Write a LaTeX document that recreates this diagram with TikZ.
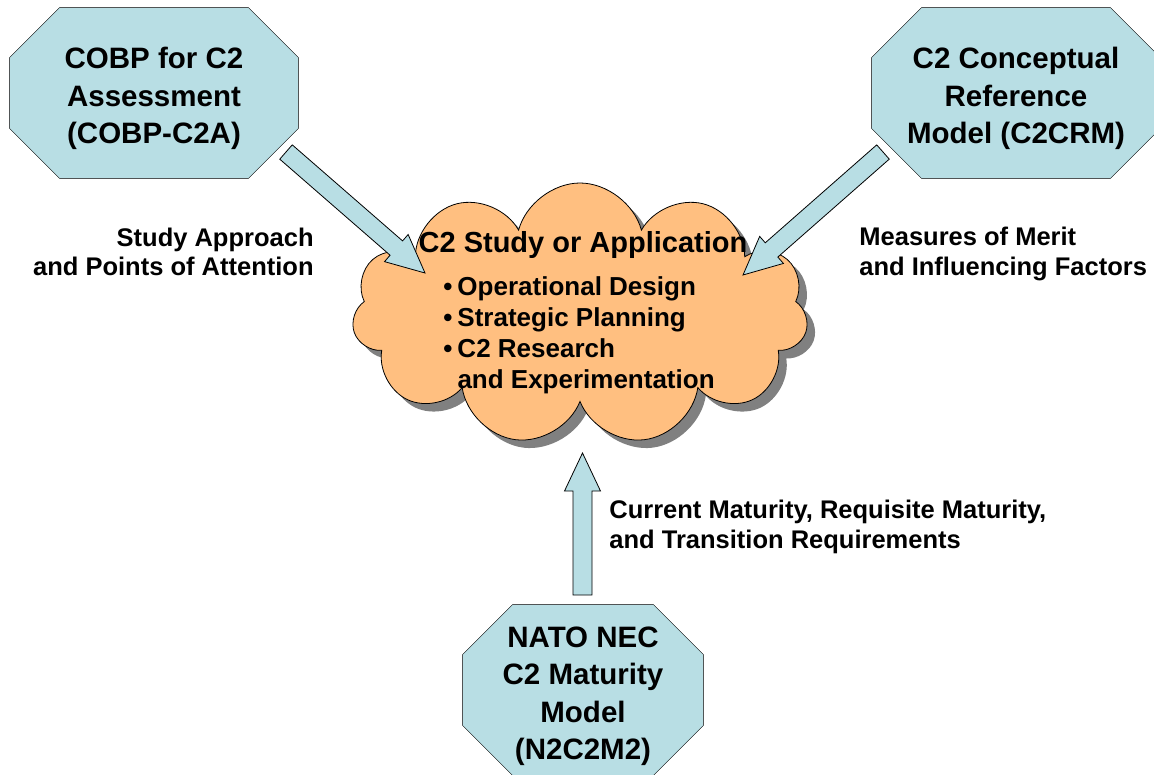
\documentclass[tikz,border=0pt]{standalone}
\usepackage{fontspec}
\setmainfont{Liberation Sans}
\usetikzlibrary{calc,shapes.symbols,shadows,backgrounds}
\definecolor{boxblue}{RGB}{184,222,228}
\definecolor{cloudorange}{RGB}{255,191,128}
\definecolor{shadowgray}{RGB}{128,128,128}
\newcommand\octlines[1]{\begin{tabular}{@{}c@{}}\rule{0pt}{38pt}#1\end{tabular}}
\begin{document}
\begin{tikzpicture}[x=1pt,y=-1pt,line width=0.8pt,
  octo/.style={rectangle,inner sep=0pt,minimum width=288pt,minimum height=170pt,
    font=\bfseries\fontsize{29.5}{37.5}\selectfont},
  lbl/.style={font=\bfseries\fontsize{25.5}{29.5}\selectfont,inner sep=0pt},
  fat/.style={draw,fill=boxblue,line join=miter,
    to path={($(\tikztostart)!9.5pt!90:(\tikztotarget)$)
      -- ($($(\tikztotarget)!38pt!(\tikztostart)$)!9.5pt!90:(\tikztotarget)$)
      -- ($($(\tikztotarget)!38pt!(\tikztostart)$)!18pt!90:(\tikztotarget)$)
      -- (\tikztotarget)
      -- ($($(\tikztotarget)!38pt!(\tikztostart)$)!18pt!-90:(\tikztotarget)$)
      -- ($($(\tikztotarget)!38pt!(\tikztostart)$)!9.5pt!-90:(\tikztotarget)$)
      -- ($(\tikztostart)!9.5pt!-90:(\tikztotarget)$) -- cycle}}]
  \useasboundingbox (0,0) rectangle (1154,774);
  % the study in the middle
  \node[cloud,cloud puffs=11,cloud ignores aspect,minimum width=456pt,minimum height=262pt,
    draw,fill=cloudorange,
    drop shadow={shadow xshift=8pt,shadow yshift=-8pt,opacity=1,fill=shadowgray}] (study) at (580,314) {};
  \node[font=\bfseries\fontsize{29}{35}\selectfont] (title) at (583,245) {C2 Study or Application};
  \node[font=\bfseries\fontsize{26}{31}\selectfont,inner sep=0pt,anchor=west] (items) at (443,336)
    {\begin{tabular}{@{}l@{\hspace{5pt}}l@{}}
      \textbullet&Operational Design\\
      \textbullet&Strategic Planning\\
      \textbullet&C2 Research\\
      &and Experimentation
    \end{tabular}};
  % the three models
  \node[octo] (cobp) at (154,93) {\octlines{COBP for C2\\Assessment\\(COBP-C2A)}};
  \node[octo] (crm) at (1016,93) {\octlines{C2 Conceptual\\Reference\\Model (C2CRM)}};
  \node[octo,minimum width=240pt] (nec) at (583,690) {\octlines{NATO NEC\\C2 Maturity\\Model\\(N2C2M2)}};
  \begin{scope}[on background layer]
    \foreach \n in {cobp,crm,nec}
      \draw[fill=boxblue] ([xshift=50pt]\n.north west) -- ([xshift=-50pt]\n.north east)
        -- ([yshift=-50pt]\n.north east) -- ([yshift=50pt]\n.south east)
        -- ([xshift=-50pt]\n.south east) -- ([xshift=50pt]\n.south west)
        -- ([yshift=50pt]\n.south west) -- ([yshift=-50pt]\n.north west) -- cycle;
  \end{scope}
  % arrow ends
  \coordinate (cobp-out) at (286,152);
  \coordinate (cobp-in) at (425,273);
  \coordinate (crm-out) at (883,152);
  \coordinate (crm-in) at (743,275);
  \coordinate (nec-out) at (582.5,595);
  \coordinate (nec-in) at (582.5,453);
  \draw[fat] (cobp-out) to (cobp-in);
  \draw[fat] (crm-out) to (crm-in);
  \draw[fat] (nec-out) to (nec-in);
  \node[lbl,align=right,anchor=east] (approach) at (314,252) {Study Approach\\and Points of Attention};
  \node[lbl,align=left,anchor=west] (merit) at (859,254) {Measures of Merit\\and Influencing Factors};
  \node[lbl,align=left,anchor=west] (maturity) at (609,527) {Current Maturity, Requisite Maturity,\\and Transition Requirements};
\end{tikzpicture}
\end{document}
